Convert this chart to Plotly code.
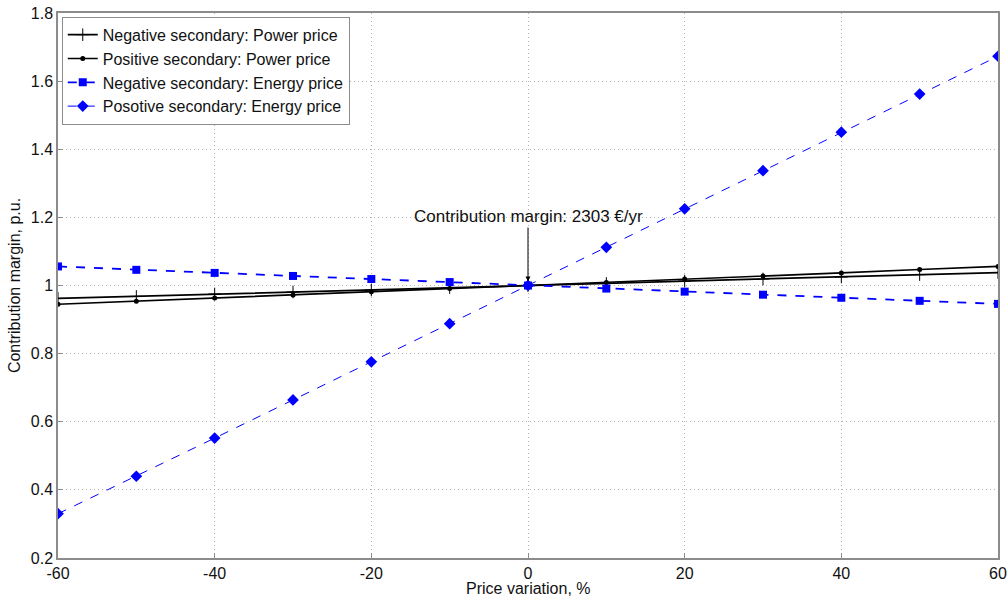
import plotly.graph_objects as go

x_vals = [-60, -50, -40, -30, -20, -10, 0, 10, 20, 30, 40, 50, 60]
neg_power = [0.962, 0.968, 0.975, 0.981, 0.987, 0.994, 1.0, 1.006, 1.013, 1.019, 1.025, 1.032, 1.038]
pos_power = [0.945, 0.954, 0.963, 0.972, 0.982, 0.991, 1.0, 1.009, 1.019, 1.028, 1.037, 1.047, 1.056]
neg_energy = [1.056, 1.046, 1.037, 1.028, 1.019, 1.010, 1.0, 0.991, 0.982, 0.973, 0.964, 0.955, 0.946]
pos_energy = [0.330, 0.440, 0.552, 0.664, 0.776, 0.888, 1.0, 1.112, 1.225, 1.337, 1.450, 1.562, 1.673]

x_ticks = [-60, -40, -20, 0, 20, 40, 60]
x_ticktext = ["-60", "-40", "-20", "0", "20", "40", "60"]
y_ticks = [0.2, 0.4, 0.6, 0.8, 1.0, 1.2, 1.4, 1.6, 1.8]
y_ticktext = ["0.2", "0.4", "0.6", "0.8", "1", "1.2", "1.4", "1.6", "1.8"]

names = ["Negative secondary: Power price", "Positive secondary: Power price",
         "Negative secondary: Energy price", "Posotive secondary: Energy price"]
x_title = "Price variation, %"
y_title = "Contribution margin, p.u."
note = "Contribution margin: 2303 €/yr"

FONT = "Liberation Sans, Arial, sans-serif"

fig = go.Figure()
fig.add_trace(go.Scatter(x=x_vals, y=neg_power, name=names[0], mode="lines+markers",
                         line=dict(color="black", width=1.7),
                         marker=dict(symbol="cross-thin", size=9, color="black",
                                     line=dict(color="black", width=1))))
fig.add_trace(go.Scatter(x=x_vals, y=pos_power, name=names[1], mode="lines+markers",
                         line=dict(color="black", width=1.7),
                         marker=dict(symbol="circle", size=5, color="black")))
fig.add_trace(go.Scatter(x=x_vals, y=neg_energy, name=names[2], mode="lines+markers",
                         line=dict(color="#0000ff", width=1.8, dash="dash"),
                         marker=dict(symbol="square", size=8, color="#0000ff")))
fig.add_trace(go.Scatter(x=x_vals, y=pos_energy, name=names[3], mode="lines+markers",
                         line=dict(color="#0000ff", width=1, dash="dash"),
                         marker=dict(symbol="diamond", size=9, color="#0000ff")))

fig.add_annotation(x=0, y=1.0, text=note, showarrow=True,
                   ax=0, ay=-69, arrowhead=2, arrowsize=1, arrowwidth=1, arrowcolor="black",
                   standoff=4, font=dict(size=17, color="#111111", family=FONT))

# x-axis title placed just below the tick labels, as in the reference
fig.add_annotation(x=0.5, y=-0.073, xref="paper", yref="paper", text=x_title,
                   showarrow=False, xanchor="center", yanchor="bottom", borderpad=0,
                   font=dict(size=16, color="#111111", family=FONT))

axis_common = dict(showline=True, linecolor="#8c8c8c", linewidth=1.5, mirror=True,
                   ticks="inside", ticklen=5, tickcolor="#8c8c8c",
                   showgrid=True, gridcolor="#b4b4b4", griddash="1px,3px", gridwidth=1,
                   zeroline=False, automargin=False,
                   tickfont=dict(size=16, color="#111111", family=FONT))

fig.update_layout(
    width=1008, height=598,
    margin=dict(l=58, r=10, t=13, b=40),
    paper_bgcolor="white", plot_bgcolor="white",
    font=dict(family=FONT, size=16, color="#111111"),
    xaxis=dict(range=[-60, 60], tickvals=x_ticks, ticktext=x_ticktext, **axis_common),
    yaxis=dict(range=[0.2, 1.8], tickvals=y_ticks, ticktext=y_ticktext,
               title=dict(text=y_title, standoff=6, font=dict(size=16, family=FONT)),
               **axis_common),
    legend=dict(x=0.004, y=0.993, xanchor="left", yanchor="top", bgcolor="white",
                bordercolor="#8c8c8c", borderwidth=1, font=dict(size=16, family=FONT, color="#111111"),
                tracegroupgap=0, itemwidth=30),
    showlegend=True,
)

fig.write_html("out.html", config={"displayModeBar": False},
               post_script="document.body.style.margin='0';document.body.style.overflow='hidden';")
